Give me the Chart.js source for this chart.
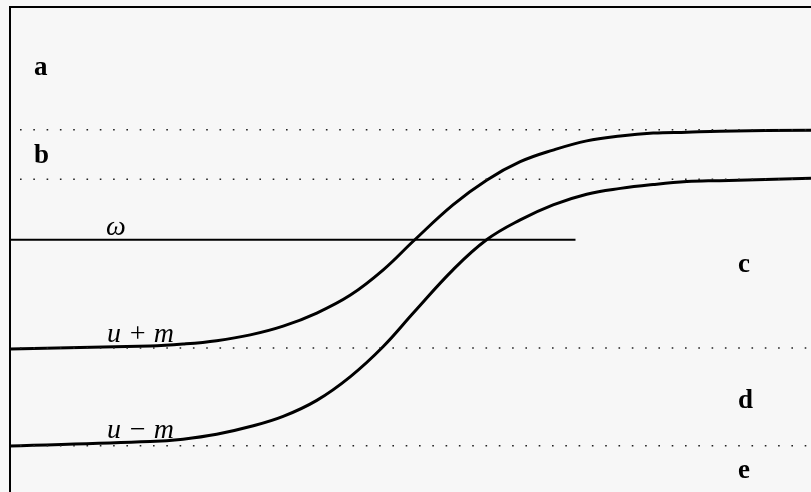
<!DOCTYPE html>
<html>
<head>
<meta charset="utf-8">
<script src="https://cdn.jsdelivr.net/npm/chart.js@4/dist/chart.umd.min.js"></script>
<style>
  html, body { margin: 0; padding: 0; background: #f7f7f7; }
  #wrap { width: 811px; height: 492px; }
</style>
</head>
<body>
<div id="wrap"><canvas id="phaseChart"></canvas></div>
<script>
// curve samples (x: 0..10 across, y: 0..10 up)
var xs = [0, 1.75, 2.16, 2.58, 3.00, 3.41, 3.83, 4.25, 4.66, 5.04, 5.53, 5.95, 6.37, 6.78, 7.20, 7.62, 8.03, 8.45, 8.86, 10];
var yPlus = [2.95, 3.01, 3.05, 3.12, 3.24, 3.42, 3.69, 4.06, 4.58, 5.18, 5.92, 6.43, 6.81, 7.05, 7.24, 7.34, 7.40, 7.42, 7.44, 7.46];
var yMinus = [0.95, 1.04, 1.09, 1.19, 1.35, 1.56, 1.89, 2.38, 3.00, 3.70, 4.58, 5.20, 5.61, 5.92, 6.14, 6.26, 6.34, 6.40, 6.42, 6.47];
var omegaLevel = 5.20;
var omegaEnd = 7.06;
var dottedLevels = [7.47, 6.45, 2.97, 0.955];

// text labels: [text, x, y, style]
var labels = [
    ['a', 0.30, 8.60, 'bold'],
    ['b', 0.30, 6.78, 'bold'],
    ['c', 9.09, 4.54, 'bold'],
    ['d', 9.09, 1.73, 'bold'],
    ['e', 9.09, 0.29, 'bold'],
    ['\u03C9', 1.20, 5.30, 'italic'],
    ['u + m', 1.21, 3.09, 'italic'],
    ['u \u2212 m', 1.21, 1.11, 'italic']
];

function pts(xv, yv) {
    return xv.map(function(x, i) { return {x: x, y: yv[i]}; });
}

var datasets = [];
dottedLevels.forEach(function(lv) {
    datasets.push({
        data: [{x: 0, y: lv}, {x: 10, y: lv}],
        borderColor: '#222',
        borderWidth: 1.6,
        borderDash: [1.6, 11.7],
        borderDashOffset: -10,
        pointRadius: 0,
        showLine: true
    });
});
datasets.push({
    data: [{x: 0, y: omegaLevel}, {x: omegaEnd, y: omegaLevel}],
    borderColor: '#000',
    borderWidth: 2,
    pointRadius: 0,
    showLine: true
});
[pts(xs, yPlus), pts(xs, yMinus)].forEach(function(d) {
    datasets.push({
        data: d,
        borderColor: '#000',
        borderWidth: 3,
        pointRadius: 0,
        showLine: true,
        tension: 0.4
    });
});

var framePlugin = {
    id: 'frame',
    afterDatasetsDraw: function(chart) {
        var c = chart.ctx, a = chart.chartArea;
        var sx = chart.scales.x, sy = chart.scales.y;
        c.save();
        c.strokeStyle = '#000';
        c.lineWidth = 2;
        c.beginPath();
        c.moveTo(a.left, a.bottom);
        c.lineTo(a.left, a.top);
        c.lineTo(a.right, a.top);
        c.stroke();
        c.fillStyle = '#000';
        c.textAlign = 'left';
        c.textBaseline = 'alphabetic';
        labels.forEach(function(l) {
            c.font = l[3] === 'bold' ? 'bold 27px "Liberation Serif"' : 'italic 28px "Liberation Serif"';
            c.fillText(l[0], sx.getPixelForValue(l[1]), sy.getPixelForValue(l[2]));
        });
        c.restore();
    }
};

var ctx = document.getElementById('phaseChart').getContext('2d');
var phaseChart = new Chart(ctx, {
    type: 'scatter',
    data: { datasets: datasets },
    options: {
        responsive: true,
        maintainAspectRatio: false,
        animation: false,
        layout: { padding: { left: 10, top: 7, right: 0, bottom: 0 } },
        plugins: {
            legend: { display: false },
            tooltip: { enabled: false }
        },
        scales: {
            x: { type: 'linear', min: 0, max: 10, display: false },
            y: { type: 'linear', min: 0, max: 10, display: false }
        }
    },
    plugins: [framePlugin]
});
</script>
</body>
</html>
